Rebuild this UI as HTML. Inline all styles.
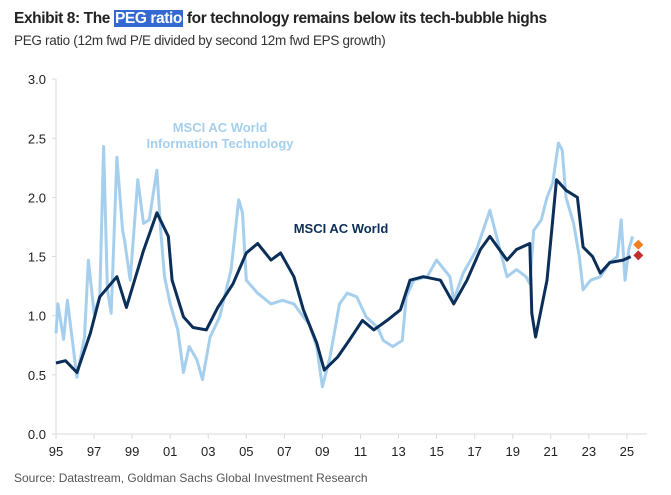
<!DOCTYPE html>
<html><head><meta charset="utf-8"><style>
body{margin:0;background:#fff;width:671px;height:495px;overflow:hidden;font-family:"Liberation Sans",sans-serif}
#t{position:absolute;left:14px;top:10px;font-size:15.5px;font-weight:bold;color:#222;letter-spacing:-0.4px}
#t span{background:#3469d4;color:#fff;padding:0 1px}
#s{position:absolute;left:14px;top:33px;font-size:13.5px;color:#333;letter-spacing:-0.3px}
#src{position:absolute;left:14px;top:471px;font-size:12px;color:#555}
svg{position:absolute;left:0;top:0}
</style></head><body>
<div id="t">Exhibit 8: The <span>PEG ratio</span> for technology remains below its tech-bubble highs</div>
<div id="s">PEG ratio (12m fwd P/E divided by second 12m fwd EPS growth)</div>
<div id="src">Source: Datastream, Goldman Sachs Global Investment Research</div>
<svg id="c" width="671" height="495"></svg>
<script>
const yTicks=[0,0.5,1,1.5,2,2.5,3];
const yTickLabels=["0.0","0.5","1.0","1.5","2.0","2.5","3.0"];
const xTicks=[1995,1997,1999,2001,2003,2005,2007,2009,2011,2013,2015,2017,2019,2021,2023,2025];
const xTickLabels=["95","97","99","01","03","05","07","09","11","13","15","17","19","21","23","25"];
const worldYears=[1995.0,1995.5,1996.1,1996.8,1997.3,1998.2,1998.7,1999.6,2000.3,2000.9,2001.1,2001.7,2002.2,2002.9,2003.5,2004.3,2005.0,2005.6,2006.3,2006.8,2007.5,2008.0,2008.7,2009.1,2009.8,2010.4,2011.1,2011.7,2012.4,2013.1,2013.6,2014.3,2015.2,2015.9,2016.6,2017.3,2017.8,2018.7,2019.2,2019.9,2020.0,2020.2,2020.8,2021.3,2021.8,2022.4,2022.7,2023.2,2023.6,2024.1,2024.8,2025.2];
const worldVals=[0.6,0.62,0.52,0.85,1.16,1.33,1.07,1.55,1.87,1.67,1.3,0.99,0.9,0.88,1.07,1.27,1.53,1.61,1.47,1.53,1.33,1.05,0.77,0.54,0.65,0.79,0.96,0.88,0.96,1.05,1.3,1.33,1.3,1.1,1.3,1.56,1.67,1.47,1.56,1.61,1.02,0.82,1.3,2.15,2.06,2.0,1.58,1.5,1.36,1.45,1.47,1.5];
const itYears=[1995.0,1995.1,1995.4,1995.6,1995.9,1996.1,1996.5,1996.7,1997.0,1997.3,1997.5,1997.7,1997.9,1998.2,1998.5,1998.6,1998.9,1999.3,1999.6,1999.9,2000.3,2000.5,2000.7,2001.0,2001.4,2001.7,2002.0,2002.4,2002.7,2003.1,2003.6,2004.2,2004.6,2004.8,2005.0,2005.6,2006.3,2006.9,2007.5,2008.0,2008.3,2008.7,2009.0,2009.4,2009.9,2010.3,2010.8,2011.3,2011.9,2012.2,2012.7,2013.2,2013.4,2013.8,2014.5,2015.0,2015.7,2015.9,2016.4,2017.1,2017.8,2018.2,2018.7,2019.2,2019.7,2019.9,2020.1,2020.5,2020.8,2021.1,2021.4,2021.6,2021.8,2022.2,2022.5,2022.7,2023.1,2023.6,2024.1,2024.5,2024.7,2024.9,2025.1,2025.3];
const itVals=[0.85,1.1,0.8,1.13,0.74,0.48,0.82,1.47,1.02,1.16,2.43,1.22,1.02,2.34,1.72,1.64,1.3,2.15,1.78,1.81,2.23,1.72,1.33,1.1,0.88,0.52,0.74,0.63,0.46,0.82,0.99,1.39,1.98,1.87,1.3,1.19,1.1,1.13,1.1,0.99,0.93,0.74,0.4,0.65,1.1,1.19,1.16,0.99,0.9,0.79,0.74,0.79,1.16,1.3,1.33,1.47,1.33,1.13,1.36,1.56,1.89,1.64,1.33,1.39,1.33,1.27,1.72,1.81,2.0,2.12,2.46,2.4,2.0,1.78,1.5,1.22,1.3,1.33,1.45,1.5,1.81,1.3,1.56,1.67];
const markerVals=[1.6,1.51];
const markerColors=["#f07f1e","#c0312e"];
const markerYear=2025.6;

const X=y=>56+(y-1995)*19.03;
const Y=v=>434-v*118.3;
const svg=document.getElementById('c');
const NS="http://www.w3.org/2000/svg";
function mk(tag,attrs){const e=document.createElementNS(NS,tag);for(const k in attrs)e.setAttribute(k,attrs[k]);svg.appendChild(e);return e;}
let e=mk('line',{x1:56,y1:79,x2:56,y2:434,stroke:'#d9d9d9','stroke-width':1});


e=mk('line',{x1:56,y1:434,x2:647,y2:434,stroke:'#d9d9d9','stroke-width':1});


yTicks.forEach((v,i)=>{
 const t=mk('line',{x1:52,y1:Y(v),x2:56,y2:Y(v),stroke:'#d9d9d9'});
 
 
 const l=mk('text',{x:46,y:Y(v)+5,'text-anchor':'end','font-size':13,fill:'#222','font-family':'Liberation Sans'});
 l.textContent=yTickLabels[i];
 
 
});
xTicks.forEach((v,i)=>{
 const t=mk('line',{x1:X(v),y1:434,x2:X(v),y2:439,stroke:'#d9d9d9'});
 
 
 const l=mk('text',{x:X(v),y:456,'text-anchor':'middle','font-size':13,fill:'#222','font-family':'Liberation Sans'});
 l.textContent=xTickLabels[i];
 
 
});
function pts(xs,vs){return xs.map((x,i)=>X(x).toFixed(1)+','+Y(vs[i]).toFixed(1)).join(' ');}
e=mk('polyline',{points:pts(itYears,itVals),fill:'none',stroke:'#a6cfee','stroke-width':3,'stroke-linejoin':'round'});


e=mk('polyline',{points:pts(worldYears,worldVals),fill:'none',stroke:'#0b2f58','stroke-width':3,'stroke-linejoin':'round'});


markerVals.forEach((v,i)=>{
 const cx=X(markerYear),cy=Y(v);
 const m=mk('polygon',{points:`${cx},${cy-5} ${cx+5},${cy} ${cx},${cy+5} ${cx-5},${cy}`,fill:markerColors[i]});
 
 
});
e=mk('text',{x:220,y:132,'text-anchor':'middle','font-size':13,'font-weight':'bold',fill:'#a6cfee','font-family':'Liberation Sans'});
e.textContent='MSCI AC World';


e=mk('text',{x:220,y:148,'text-anchor':'middle','font-size':13,'font-weight':'bold',fill:'#a6cfee','font-family':'Liberation Sans'});
e.textContent='Information Technology';


e=mk('text',{x:341,y:233,'text-anchor':'middle','font-size':13,'font-weight':'bold',fill:'#0b2f58','font-family':'Liberation Sans'});
e.textContent='MSCI AC World';


</script>
</body></html>
